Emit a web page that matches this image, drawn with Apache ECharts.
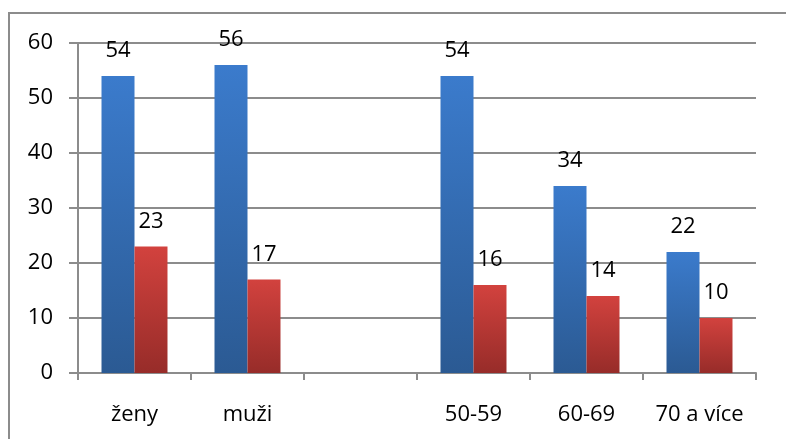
<!DOCTYPE html>
<html>
<head>
<meta charset="utf-8">
<script src="https://cdn.jsdelivr.net/npm/echarts@6/dist/echarts.min.js"></script>
<style>
  html, body { margin: 0; padding: 0; background: #fff; }
  #chart { width: 786px; height: 439px; }
</style>
</head>
<body>
<div id="chart"></div>
<script>
// Categories (blank slot separates the sex groups from the age groups)
const categories = ['ženy', 'muži', '', '50-59', '60-69', '70 a více'];
const seriesBlue = [54, 56, null, 54, 34, 22];
const seriesRed = [23, 17, null, 16, 14, 10];
const yTicks = { min: 0, max: 60, interval: 10 };

const FONT = '"Open Sans", "Liberation Sans", sans-serif';
const FONT_SIZE = 22;
const GRID_COLOR = '#8c8c8c';

function grad(top, bottom) {
  return new echarts.graphic.LinearGradient(0, 0, 0, 1, [
    { offset: 0, color: top },
    { offset: 1, color: bottom }
  ]);
}

const labelStyle = {
  show: true,
  position: 'top',
  distance: 14,
  color: '#000',
  fontSize: FONT_SIZE,
  fontFamily: FONT
};

const chart = echarts.init(document.getElementById('chart'), null, { renderer: 'canvas' });
chart.setOption({
  animation: false,
  backgroundColor: '#fff',
  graphic: [{
    type: 'rect',
    shape: { x: 9, y: 13, width: 800, height: 440 },
    style: { fill: 'none', stroke: '#8c8c8c', lineWidth: 2 },
    silent: true,
    z: -1
  }],
  grid: { left: 78, right: 30, top: 43, bottom: 66, containLabel: false },
  xAxis: {
    type: 'category',
    data: categories,
    axisLine: { show: true, lineStyle: { color: GRID_COLOR, width: 2 } },
    axisTick: { show: true, interval: 0, length: 7, lineStyle: { color: GRID_COLOR, width: 2 } },
    axisLabel: { interval: 0, hideOverlap: false, color: '#000', fontSize: FONT_SIZE, fontFamily: FONT, margin: 31 },
    splitLine: { show: false }
  },
  yAxis: {
    type: 'value',
    min: yTicks.min,
    max: yTicks.max,
    interval: yTicks.interval,
    axisLine: { show: true, lineStyle: { color: GRID_COLOR, width: 2 } },
    axisTick: { show: true, length: 9, lineStyle: { color: GRID_COLOR, width: 2 } },
    axisLabel: { color: '#000', fontSize: FONT_SIZE, fontFamily: FONT, margin: 25 },
    splitLine: { show: true, lineStyle: { color: GRID_COLOR, width: 2 } }
  },
  series: [
    {
      type: 'bar',
      data: seriesBlue,
      barGap: '0%',
      barCategoryGap: '41.6%',
      itemStyle: { color: grad('#3b7bcc', '#2b5a93') },
      label: labelStyle
    },
    {
      type: 'bar',
      data: seriesRed,
      itemStyle: { color: grad('#d2423e', '#972c29') },
      label: labelStyle
    }
  ]
});
</script>
</body>
</html>
